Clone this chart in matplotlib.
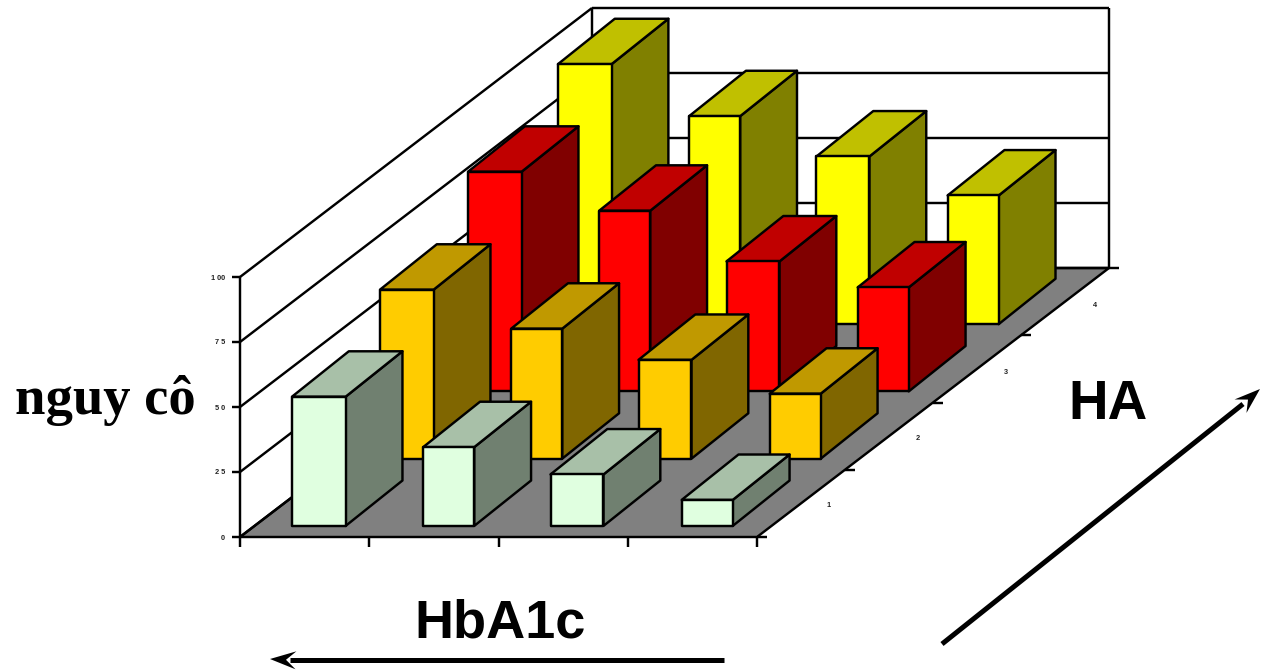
import numpy as np
import matplotlib
matplotlib.use("Agg")
import matplotlib.pyplot as plt
from matplotlib.patches import Polygon

# values per HA row (front to back), left to right along HbA1c
row1 = [49.7, 30.3, 19.8, 10]
row2 = [65, 50, 38, 25]
row3 = [84.5, 69.5, 50, 40]
row4 = [100, 80, 64.5, 49.5]
rows = [row1, row2, row3, row4]

front_colors = ["#E0FFE0", "#FFCC00", "#FF0000", "#FFFF00"]
top_colors = ["#A8C0A8", "#C09900", "#C00000", "#C0C000"]
side_colors = ["#708070", "#806600", "#800000", "#808000"]

y_ticks = [0, 25, 50, 75, 100]
y_tick_labels = ["0", "2 5", "5 0", "7 5", "1 00"]
row_labels = ["1", "2", "3", "4"]

LW = 1.75
n_cat = 4
n_row = 4


# oblique projection: u along HbA1c, v along HA, w is height
def proj(u, v, w=0):
    return (240 + 129.25 * u + 88 * v, 537 - 67.25 * v - 2.6 * w)


fig = plt.figure(figsize=(12.68, 6.72), dpi=100)
ax = fig.add_axes([0, 0, 1, 1])
ax.set_xlim(0, 1268)
ax.set_ylim(672, 0)
ax.axis("off")


def line(p, q, lw=LW, z=1):
    ax.plot([p[0], q[0]], [p[1], q[1]], color="black", lw=lw, zorder=z,
            solid_capstyle="butt")


# floor
ax.add_patch(Polygon([proj(0, 0), proj(n_cat, 0), proj(n_cat, n_row), proj(0, n_row)],
                     closed=True, fc="#808080", ec="black", lw=LW, zorder=1))

# walls and gridlines
for w in y_ticks:
    line(proj(0, 0, w), proj(0, n_row, w))
    line(proj(0, n_row, w), proj(n_cat, n_row, w))
    x, y = proj(0, 0, w)
    line((x - 8, y), (x, y))
    ax.text(x - 15, y + 1, y_tick_labels[y_ticks.index(w)], fontsize=5.3, fontweight="bold",
            family="Liberation Sans", ha="right", va="center", color="#222222")
line(proj(0, 0, 0), proj(0, 0, 100))
line(proj(0, n_row, 0), proj(0, n_row, 100))
line(proj(n_cat, n_row, 0), proj(n_cat, n_row, 100))

# ticks along the floor edges
for u in range(n_cat + 1):
    x, y = proj(u, 0)
    line((x, y), (x, y + 10))
for v in range(n_row + 1):
    x, y = proj(n_cat, v)
    line((x, y), (x + 10, y))
for v in range(n_row):
    x, y = proj(n_cat, v + 0.5)
    ax.text(x + 28 + 0.7 * v, y + 2 + 0.7 * v, row_labels[v], fontsize=5.3, fontweight="bold",
            family="Liberation Sans", ha="center", va="center", color="#222222")

# bars, back row first so the front rows overlap them
cat_left = [0.29, 0.305, 0.29, 0.305]
cat_right = [0.705, 0.70, 0.70, 0.70]
row_shift = [0, 0, 0, 0.015]
v0, dv = 0.165, 0.675
back_skew = 0.02  # bar depth runs a little steeper than the floor
z = 2
for r in range(n_row - 1, -1, -1):
    for c in range(n_cat):
        h = rows[r][c]
        a, b = c + cat_left[c] + row_shift[r], c + cat_right[c] + row_shift[r]
        f, g = r + v0, r + v0 + dv
        a2, b2 = a - back_skew, b - back_skew
        ax.add_patch(Polygon([proj(b, f, 0), proj(b2, g, 0), proj(b2, g, h), proj(b, f, h)],
                             fc=side_colors[r], ec="black", lw=LW, zorder=z, joinstyle="round"))
        ax.add_patch(Polygon([proj(a, f, h), proj(b, f, h), proj(b2, g, h), proj(a2, g, h)],
                             fc=top_colors[r], ec="black", lw=LW, zorder=z, joinstyle="round"))
        ax.add_patch(Polygon([proj(a, f, 0), proj(b, f, 0), proj(b, f, h), proj(a, f, h)],
                             fc=front_colors[r], ec="black", lw=LW, zorder=z, joinstyle="round"))
        z += 1


# stealth arrows
def arrow(start, neck, tip):
    s, n, t = np.array(start, float), np.array(neck, float), np.array(tip, float)
    d = (t - n) / np.linalg.norm(t - n)
    perp = np.array([-d[1], d[0]])
    ax.plot([s[0], n[0]], [s[1], n[1]], color="black", lw=3.6, zorder=50,
            solid_capstyle="butt")
    back = t - d * 26
    ax.add_patch(Polygon([t, back + perp * 9, t - d * 16, back - perp * 9],
                         fc="black", ec="none", zorder=51))


arrow((942, 644), (1243, 404), (1260, 389))
arrow((724, 660), (290, 660), (270, 659))

ax.text(105.5, 401, "nguy cô", fontsize=39.3, fontweight="bold", family="Liberation Serif",
        ha="center", va="center")
ax.text(1108, 405, "HA", fontsize=39.5, fontweight="bold", family="Liberation Sans",
        ha="center", va="center")
ax.text(500, 623, "HbA1c", fontsize=39, fontweight="bold", family="Liberation Sans",
        ha="center", va="center")

fig.savefig("out.png", dpi=100)
